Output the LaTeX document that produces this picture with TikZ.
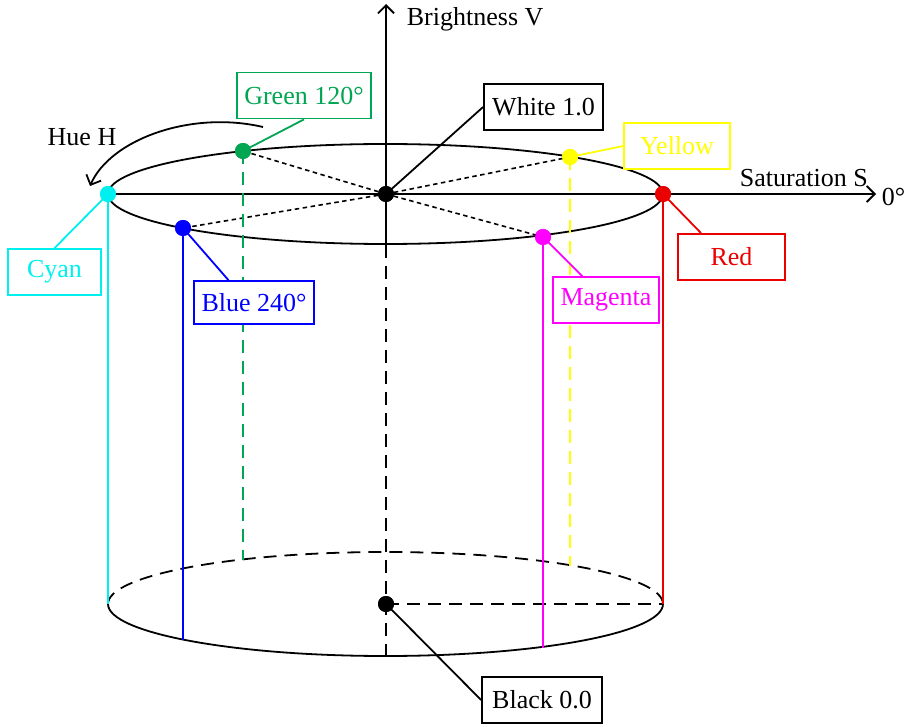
\documentclass[tikz,border=0pt]{standalone}
\usepackage{fontspec}
\setmainfont{Liberation Serif}
\usetikzlibrary{arrows.meta,calc}
\definecolor{cgreen}{RGB}{0,166,81}
\definecolor{ccyan}{RGB}{0,240,240}
\definecolor{cblue}{RGB}{0,0,255}
\definecolor{cyellow}{RGB}{255,255,0}
\definecolor{cmagenta}{RGB}{255,0,255}
\definecolor{cred}{RGB}{235,0,0}
\begin{document}
\begin{tikzpicture}[x=1pt,y=-1pt,
  font=\fontsize{26}{31}\selectfont,
  line width=1.8pt,
  lbl/.style={draw=#1, text=#1, fill=white, line width=1.8pt, inner sep=0pt, minimum height=46pt},
  dot/.style={circle, fill, inner sep=0pt, minimum size=16pt},
  dotl/.style={line width=1.6pt, dash pattern=on 4.5pt off 3.5pt},
  longdash/.style={dash pattern=on 13pt off 8pt},
  arr/.style={-{Straight Barb[length=8pt,width=16pt,line width=1.8pt]}}]
\useasboundingbox (0,0) rectangle (907,727);

% ellipses
\draw (385.5,194) ellipse [x radius=277.5, y radius=50];
\draw (663,604) arc[start angle=0, end angle=180, x radius=277.5, y radius=52];
\draw[longdash] (108,604) arc[start angle=180, end angle=360, x radius=277.5, y radius=52];

% points
\node[dot, black] (W) at (386,194) {};
\node[dot, black] (K) at (386,604) {};
\node[dot, ccyan] (C) at (108,194) {};
\node[dot, cred] (R) at (663,194) {};
\node[dot, cgreen] (G) at (243,151) {};
\node[dot, cyellow] (Y) at (570,157) {};
\node[dot, cblue] (B) at (183,228) {};
\node[dot, cmagenta] (M) at (543,237) {};

% bottom coordinates
\coordinate (Cb) at (108,604);
\coordinate (Rb) at (663,604);
\coordinate (Gb) at (243,560);
\coordinate (Yb) at (570,566);
\coordinate (Bb) at (183,640);
\coordinate (Mb) at (543,648);
\coordinate (Vf) at (386,245);
\coordinate (Vb) at (386,657);
\coordinate (Vt) at (386,4);
\coordinate (St) at (876,194);

% axes
\draw[arr] (Vf) -- (Vt);
\draw[longdash] (Vf) -- (Vb);
\draw[arr] (C.center) -- (St);
\draw[longdash] (K.center) -- (Rb);

% dotted spokes
\draw[dotl] (W.center) -- (G.center);
\draw[dotl] (W.center) -- (Y.center);
\draw[dotl] (W.center) -- (B.center);
\draw[dotl] (W.center) -- (M.center);

% vertical lines
\draw[ccyan] (C.center) -- (Cb);
\draw[cred] (R.center) -- (Rb);
\draw[cblue] (B.center) -- (Bb);
\draw[cmagenta] (M.center) -- (Mb);
\draw[cgreen, longdash] (G.center) -- (Gb);
\draw[cyellow, longdash] (Y.center) -- (Yb);

% redraw points on top
\node[dot, black] at (W) {};
\node[dot, black] at (K) {};
\node[dot, ccyan] at (C) {};
\node[dot, cred] at (R) {};
\node[dot, cgreen] at (G) {};
\node[dot, cyellow] at (Y) {};
\node[dot, cblue] at (B) {};
\node[dot, cmagenta] at (M) {};

% labels
\node[lbl=cgreen, minimum width=134pt] (Gl) at (304,95.5) {Green 120°};
\node[lbl=black, minimum width=119pt] (Wl) at (543.5,107) {White 1.0};
\node[lbl=cyellow, minimum width=106pt] (Yl) at (677,146) {Yellow};
\node[lbl=cred, minimum width=107pt] (Rl) at (731.5,257) {Red};
\node[lbl=ccyan, minimum width=93pt] (Cl) at (54.5,272) {Cyan};
\node[lbl=cblue, minimum width=120pt, minimum height=43pt] (Bl) at (254,302.5) {Blue 240°};
\node[lbl=cmagenta, minimum width=106pt] (Ml) at (606,300) {Magenta};
\node[lbl=black, minimum width=120pt] (Kl) at (542,700) {Black 0.0};

% leaders
\draw[cgreen] (G.center) -- (Gl.south);
\draw[black] (W.center) -- (Wl.west);
\draw[cyellow] (Y.center) -- (Yl.west);
\draw[cred] (R.center) -- ($(Rl.north west)!0.22!(Rl.north east)$);
\draw[ccyan] (C.center) -- (Cl.north);
\draw[cblue] (B.center) -- ($(Bl.north west)!0.29!(Bl.north east)$);
\draw[cmagenta] (M.center) -- ($(Ml.north west)!0.28!(Ml.north east)$);
\draw[black] (K.center) -- (Kl.west);

% axis texts
\node[anchor=west, inner sep=0pt] (Vt_l) at (406,19) {Brightness V};
\node[anchor=west, inner sep=0pt] (St_l) at (739,178) {Saturation S};
\node[anchor=west, inner sep=0pt] (Zl) at (881,197) {0°};
\node[inner sep=0pt] (Hl) at (82,137) {Hue H};

% hue arrow
\coordinate (H1) at (263,127);
\coordinate (H2) at (90,186);
\draw[arr] (H1) .. controls (190,110) and (110,140) .. (H2);
\end{tikzpicture}
\end{document}
